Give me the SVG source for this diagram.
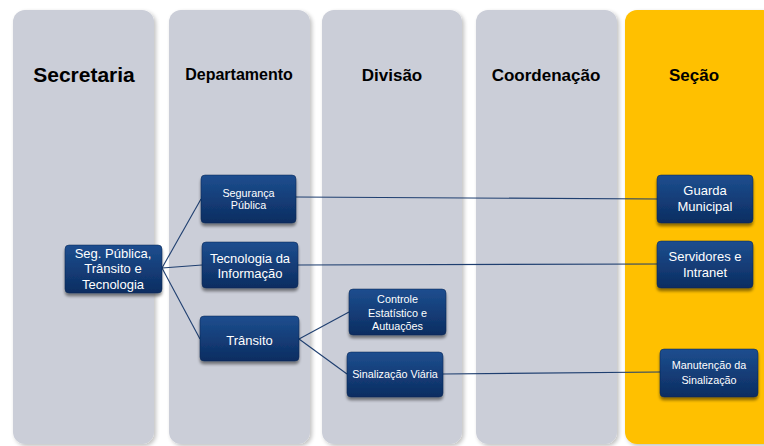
<svg xmlns="http://www.w3.org/2000/svg" width="764" height="446" viewBox="0 0 764 446">
<defs>
<linearGradient id="nodeGrad" x1="0" y1="0" x2="0" y2="1">
<stop offset="0" stop-color="#1D4E8F"/>
<stop offset="1" stop-color="#0C2D61"/>
</linearGradient>
<filter id="colShadow" x="-10%" y="-5%" width="125%" height="115%">
<feGaussianBlur in="SourceAlpha" stdDeviation="2"/>
<feOffset dx="2" dy="2" result="b"/>
<feComponentTransfer><feFuncA type="linear" slope="0.25"/></feComponentTransfer>
<feMerge><feMergeNode/><feMergeNode in="SourceGraphic"/></feMerge>
</filter>
<filter id="nodeShadow" x="-10%" y="-10%" width="125%" height="140%">
<feGaussianBlur in="SourceAlpha" stdDeviation="1.8"/>
<feOffset dx="0" dy="3" result="b"/>
<feComponentTransfer><feFuncA type="linear" slope="0.45"/></feComponentTransfer>
<feMerge><feMergeNode/><feMergeNode in="SourceGraphic"/></feMerge>
</filter>
</defs>
<style>
.col{fill:#CBCED8;filter:url(#colShadow);}
.col.sel{fill:#FFC000;}
.hdr{font-family:"Liberation Sans",Arial,sans-serif;font-weight:bold;fill:#000;text-anchor:middle;}
.box{fill:url(#nodeGrad);stroke:#0A2550;stroke-width:0.5;filter:url(#nodeShadow);}
.t{font-family:"Liberation Sans",Arial,sans-serif;fill:#FFFFFF;text-anchor:middle;font-size:13px;}
.s{font-size:10.8px;}
.conn{stroke:#1F3F70;stroke-width:1.1;fill:none;}
</style>
<rect width="764" height="446" fill="#FFFFFF"/>
<g id="columns">
<rect class="col" x="13" y="10" width="141" height="434" rx="12"/>
<rect class="col" x="169" y="10" width="141" height="434" rx="12"/>
<rect class="col" x="322" y="10" width="140" height="434" rx="12"/>
<rect class="col" x="476" y="10" width="141" height="434" rx="12"/>
<rect class="col sel" x="625" y="10" width="150" height="434" rx="12"/>
<text class="hdr" x="84" y="82" font-size="21">Secretaria</text>
<text class="hdr" x="239" y="80" font-size="16">Departamento</text>
<text class="hdr" x="392" y="81" font-size="17">Divisão</text>
<text class="hdr" x="546" y="81" font-size="17">Coordenação</text>
<text class="hdr" x="694" y="81" font-size="17">Seção</text>
</g>
<g id="connectors">
<line class="conn" x1="162" y1="268" x2="201" y2="199"/>
<line class="conn" x1="162" y1="268" x2="202" y2="265"/>
<line class="conn" x1="162" y1="268" x2="200" y2="339"/>
<line class="conn" x1="299" y1="339" x2="349" y2="312"/>
<line class="conn" x1="299" y1="339" x2="347" y2="374"/>
<line class="conn" x1="296" y1="197" x2="657" y2="199"/>
<line class="conn" x1="298" y1="265" x2="657" y2="264"/>
<line class="conn" x1="443" y1="374" x2="660" y2="372"/>
</g>
<g id="n-seg-publica-transito">
<rect class="box" x="65" y="245" width="97" height="48" rx="4"/>
<text class="t" x="113" y="257.5">Seg. Pública,</text>
<text class="t" x="113" y="273">Trânsito e</text>
<text class="t" x="113" y="289">Tecnologia</text>
</g>
<g id="n-seguranca-publica">
<rect class="box" x="201" y="175" width="95" height="48" rx="4"/>
<text class="t s" x="248.5" y="196.5">Segurança</text>
<text class="t s" x="248.5" y="209">Pública</text>
</g>
<g id="n-tecnologia">
<rect class="box" x="202" y="242" width="96" height="46" rx="4"/>
<text class="t" x="250" y="262.5">Tecnologia da</text>
<text class="t" x="250" y="277.5">Informação</text>
</g>
<g id="n-transito">
<rect class="box" x="200" y="316" width="99" height="45" rx="4"/>
<text class="t" x="249.5" y="344.5">Trânsito</text>
</g>
<g id="n-controle">
<rect class="box" x="349" y="289" width="97" height="46" rx="4"/>
<text class="t s" x="397.5" y="303">Controle</text>
<text class="t s" x="397.5" y="316.5">Estatístico e</text>
<text class="t s" x="397.5" y="330">Autuações</text>
</g>
<g id="n-sinalizacao">
<rect class="box" x="347" y="352" width="96" height="45" rx="4"/>
<text class="t s" x="395" y="378">Sinalização Viária</text>
</g>
<g id="n-guarda">
<rect class="box" x="657" y="175" width="96" height="48" rx="4"/>
<text class="t" x="705" y="195">Guarda</text>
<text class="t" x="705" y="211">Municipal</text>
</g>
<g id="n-servidores">
<rect class="box" x="657" y="241" width="96" height="47" rx="4"/>
<text class="t" x="705" y="260.5">Servidores e</text>
<text class="t" x="705" y="277">Intranet</text>
</g>
<g id="n-manutencao">
<rect class="box" x="660" y="349" width="98" height="48" rx="4"/>
<text class="t s" x="709" y="369">Manutenção da</text>
<text class="t s" x="709" y="384">Sinalização</text>
</g>
</svg>
